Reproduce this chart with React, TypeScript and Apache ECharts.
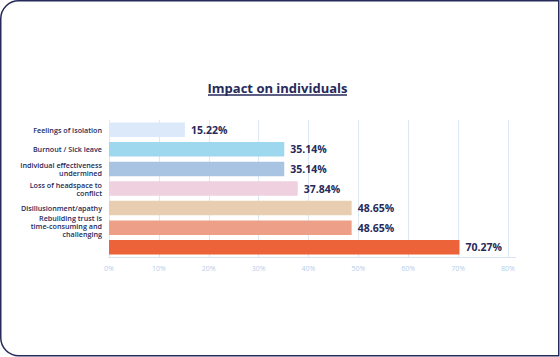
import React, { useEffect, useRef } from "react";
import * as echarts from "echarts";

const categories = [
  "Feelings of isolation",
  "Burnout / Sick leave",
  "Individual effectiveness\nundermined",
  "Loss of headspace to\nconflict",
  "Disillusionment/apathy",
  "Rebuilding trust is\ntime-consuming and\nchallenging",
  "Stress / frustration /\nresentment",
];
const values = [15.22, 35.14, 35.14, 37.84, 48.65, 48.65, 70.27];
const barColors = ["#dbe9fb", "#9dd8ef", "#a9c3e3", "#efd0de", "#e8cdb0", "#ee9f88", "#ec6339"];
const titleText = "Impact on individuals";

export default function App() {
  const ref = useRef<HTMLDivElement>(null);
  useEffect(() => {
    if (!ref.current) return;
    const chart = echarts.init(ref.current, null, { renderer: "svg" });
    const navy = "#262a5a";
    chart.setOption({
      animation: false,
      backgroundColor: "#ffffff",
      grid: { left: 109, right: 52, top: 120, bottom: 100, containLabel: false },
      graphic: [
        {
          type: "rect",
          shape: { x: 0.75, y: 0.75, width: 558, height: 355, r: [18, 0, 0, 18] },
          style: { fill: "none", stroke: navy, lineWidth: 1.5 },
        },
        {
          type: "text",
          x: 277.5,
          y: 88,
          style: {
            text: titleText,
            fill: navy,
            font: "700 13px 'Open Sans'",
            align: "center",
            verticalAlign: "middle",
          },
        },
        {
          type: "line",
          shape: { x1: 208, y1: 95, x2: 347, y2: 95 },
          style: { stroke: navy, lineWidth: 1.6 },
        },
        {
          type: "line",
          shape: { x1: 508, y1: 257.5, x2: 516, y2: 257.5 },
          style: { stroke: "#d6e4f5", lineWidth: 1 },
        },
      ],
      xAxis: {
        type: "value",
        min: 0,
        max: 80,
        interval: 10,
        axisLabel: {
          formatter: "{value}%",
          color: "#b7cdea",
          fontSize: 7,
          fontFamily: "Open Sans",
          margin: 8,
        },
        axisLine: { show: true, lineStyle: { color: "#d6e4f5", width: 1 } },
        axisTick: { show: false },
        splitLine: { show: true, lineStyle: { color: "#dde8f6", width: 1 } },
      },
      yAxis: {
        type: "category",
        data: categories,
        inverse: true,
        axisLine: { show: false },
        axisTick: { show: false },
        axisLabel: {
          color: navy,
          fontSize: 7.2,
          fontWeight: 600,
          fontFamily: "Open Sans",
          lineHeight: 8,
          margin: 7,
          align: "right",
          formatter: (v: string) => {
            const lines = v.split("\n");
            if (lines.length === 3) {
              return lines.map((l) => "{a|" + l + "}").join("\n") + "\n{s| }";
            }
            return v;
          },
          rich: {
            a: {
              color: navy,
              fontSize: 7.2,
              fontWeight: 600,
              fontFamily: "Open Sans",
              lineHeight: 8,
              align: "right",
            },
            s: { fontSize: 2, lineHeight: 4 },
          },
        },
      },
      series: [
        {
          type: "bar",
          data: values.map((v, i) => ({ value: v, itemStyle: { color: barColors[i] } })),
          barWidth: "74%",
          label: {
            show: true,
            position: "right",
            distance: 6,
            formatter: (p: any) => p.value.toFixed(2) + "%",
            color: navy,
            fontSize: 10.5,
            fontWeight: 700,
            fontFamily: "Open Sans",
          },
        },
      ],
    });
    return () => chart.dispose();
  }, []);
  return (
    <div
      ref={ref}
      style={{ position: "fixed", left: 0, top: 0, width: 560, height: 357 }}
    />
  );
}
